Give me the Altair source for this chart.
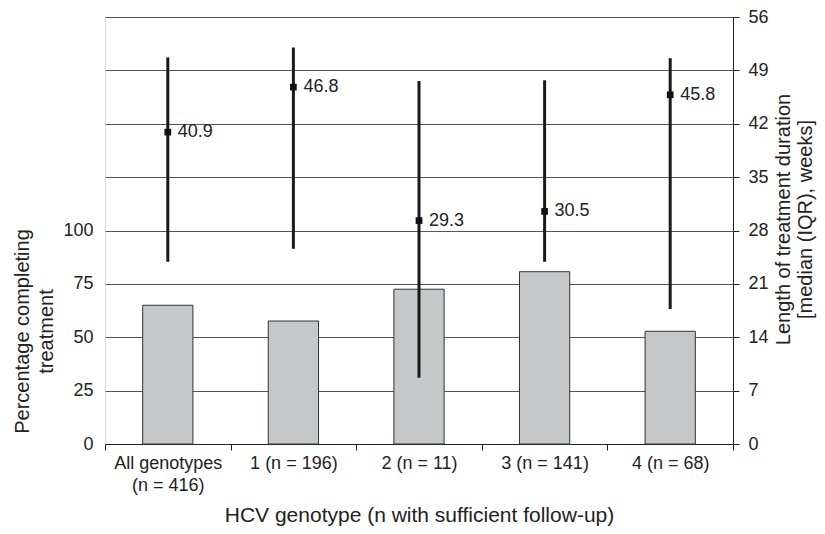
import altair as alt
import pandas as pd

categories = ["All genotypes (n = 416)", "1 (n = 196)", "2 (n = 11)", "3 (n = 141)", "4 (n = 68)"]
pct_completing = [65.0, 57.6, 72.5, 80.7, 52.8]
median_weeks = [40.9, 46.8, 29.3, 30.5, 45.8]
q1_weeks = [23.9, 25.6, 8.7, 23.9, 17.7]
q3_weeks = [50.7, 52.0, 47.6, 47.7, 50.6]
pct_ticks = [0, 25, 50, 75, 100]
week_ticks = [0, 7, 14, 21, 28, 35, 42, 49, 56]

df = pd.DataFrame({
    "cat": categories,
    "pct": pct_completing,
    "med": median_weeks,
    "q1": q1_weeks,
    "q3": q3_weeks,
})
df["lab"] = df["med"].map(lambda v: f"{v:.1f}")

FONT = "Liberation Sans"
TICK_FS = 18
YTITLE_FS = 20
XTITLE_FS = 21

x = alt.X(
    "cat:N",
    sort=categories,
    scale=alt.Scale(paddingInner=0, paddingOuter=0),
    axis=alt.Axis(
        title="HCV genotype (n with sufficient follow-up)",
        labelAngle=0,
        tickBand="extent",
        ticks=True,
        tickSize=6,
        tickColor="#222",
        domainColor="#222",
        labelFontSize=TICK_FS,
        labelColor="#222",
        labelPadding=4,
        labelLineHeight=22,
        labelExpr="datum.label == 'All genotypes (n = 416)' ? ['All genotypes', '(n = 416)'] : datum.label",
        titleFontSize=XTITLE_FS,
        titleFontWeight="normal",
        titleColor="#222",
        titleY=77,
        titleBaseline="alphabetic",
        grid=False,
    ),
)

bars = alt.Chart(df).mark_bar(
    width=alt.RelativeBandSize(0.4), color="#c6c7c9", stroke="#333", strokeWidth=1
).encode(
    x=x,
    y=alt.Y(
        "pct:Q",
        scale=alt.Scale(domain=[0, 200], nice=False, zero=True),
        axis=alt.Axis(
            orient="left",
            values=pct_ticks,
            title=["Percentage completing", "treatment"],
            titleAngle=-90,
            titleBaseline="middle",
            titleAlign="center",
            titleX=-83,
            titleY=314,
            titleLineHeight=24,
            titleFontSize=YTITLE_FS,
            titleFontWeight="normal",
            titleColor="#222",
            labelFontSize=TICK_FS,
            labelColor="#222",
            ticks=False,
            labelPadding=12,
            grid=False,
            domain=False,
        ),
    ),
)

yw = alt.Y(
    "q1:Q",
    scale=alt.Scale(domain=[0, 56], nice=False, zero=True),
    axis=alt.Axis(
        orient="right",
        values=week_ticks,
        title=["Length of treatment duration", "[median (IQR), weeks]"],
        titleAngle=-90,
        titleBaseline="middle",
        titleAlign="center",
        titleX=50,
        titleY=202,
        titleLineHeight=22,
        titleFontSize=YTITLE_FS,
        titleFontWeight="normal",
        titleColor="#222",
        labelFontSize=TICK_FS,
        labelColor="#222",
        tickSize=6,
        tickColor="#222",
        domainColor="#222",
        labelPadding=9,
        grid=True,
        gridColor="#555",
        gridWidth=1,
    ),
)

rules = alt.Chart(df).mark_rule(color="#1a1a1a", strokeWidth=3).encode(
    x=alt.X("cat:N", sort=categories),
    y=yw,
    y2="q3:Q",
)

pts = alt.Chart(df).mark_point(shape="square", filled=True, size=45, color="#111", opacity=1).encode(
    x=alt.X("cat:N", sort=categories),
    y=alt.Y("med:Q"),
)

labels = alt.Chart(df).mark_text(align="left", baseline="middle", dx=10, fontSize=TICK_FS, color="#222", font=FONT).encode(
    x=alt.X("cat:N", sort=categories),
    y=alt.Y("med:Q"),
    text="lab:N",
)

weeks_layer = alt.layer(rules, pts, labels)

chart = alt.layer(bars, weeks_layer).resolve_scale(y="independent").properties(
    width=628,
    height=427,
    autosize=alt.AutoSizeParams(type="none"),
    padding={"left": 97, "top": 9, "right": 84, "bottom": 82},
    background="white",
).configure_view(
    stroke="#222", strokeWidth=1
).configure(
    font=FONT
)

chart.save("out.html", embed_options={"renderer": "svg", "actions": False})
